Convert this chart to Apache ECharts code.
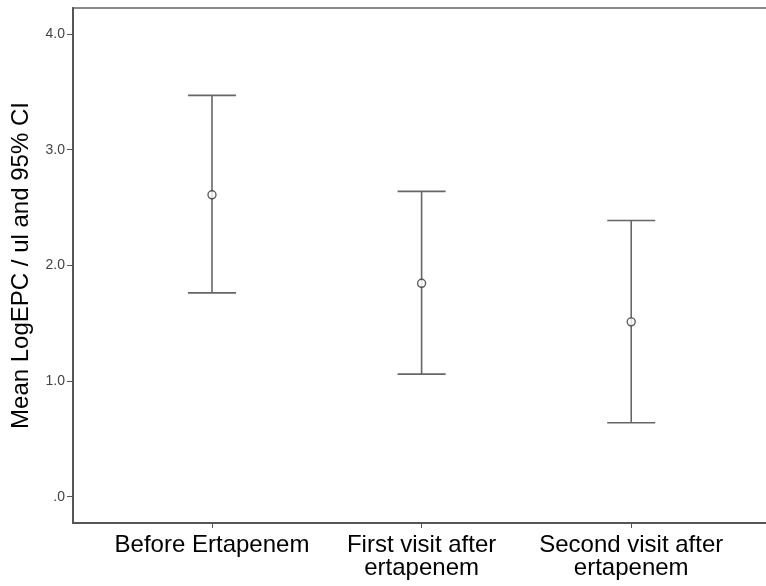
<!DOCTYPE html>
<html>
<head>
<meta charset="utf-8">
<script src="https://cdn.jsdelivr.net/npm/echarts@6/dist/echarts.min.js"></script>
<style>html,body{margin:0;padding:0;background:#fff;}#c{width:766px;height:586px;}</style>
</head>
<body>
<div id="c"></div>
<script>
const categories = ['Before Ertapenem', 'First visit after\nertapenem', 'Second visit after\nertapenem'];
const means = [2.61, 1.845, 1.512];
const upperCI = [3.47, 2.64, 2.388];
const lowerCI = [1.762, 1.06, 0.64];
const yTicks = [0, 1, 2, 3, 4];
const yTitle = 'Mean LogEPC / ul and 95% CI';

const chart = echarts.init(document.getElementById('c'), null, {renderer: 'canvas'});
const idx = categories.map((_, i) => i);
const font = '"Liberation Sans", Arial, sans-serif';

chart.setOption({
  animation: false,
  backgroundColor: '#fff',
  grid: {left: 73, right: -4, top: 8, bottom: 63, show: true, borderColor: '#8a8a8a', borderWidth: 2, backgroundColor: 'transparent', containLabel: false, outerBoundsMode: 'none'},
  xAxis: {
    type: 'value', min: -0.663, max: 2.662,
    splitLine: {show: false},
    axisLine: {show: true, onZero: false, lineStyle: {color: '#555', width: 2}},
    axisTick: {show: true, customValues: idx, length: 5, lineStyle: {color: '#555', width: 1}},
    axisLabel: {show: true, customValues: idx, formatter: v => categories[Math.round(v)], fontFamily: font, fontSize: 24, color: '#000', lineHeight: 23, margin: 11}
  },
  yAxis: {
    type: 'value', min: -0.227, max: 4.225,
    name: yTitle, nameLocation: 'middle', nameGap: 40, nameRotate: 90,
    nameTextStyle: {fontFamily: font, fontSize: 24, color: '#000'},
    splitLine: {show: false},
    axisLine: {show: true, onZero: false, lineStyle: {color: '#555', width: 2}},
    axisTick: {show: true, customValues: yTicks, length: 6, lineStyle: {color: '#555', width: 1}},
    axisLabel: {show: true, customValues: yTicks, formatter: v => v === 0 ? '.0' : v.toFixed(1), fontFamily: font, fontSize: 14, color: '#444', margin: 8}
  },
  series: [
    {
      type: 'custom',
      data: idx.map(i => [i, lowerCI[i], upperCI[i]]),
      renderItem: function (params, api) {
        const x = api.value(0);
        const lo = api.coord([x, api.value(1)]);
        const hi = api.coord([x, api.value(2)]);
        const hw = 24;
        const st = {stroke: '#666', lineWidth: 1.6};
        return {type: 'group', children: [
          {type: 'line', shape: {x1: lo[0], y1: lo[1], x2: hi[0], y2: hi[1]}, style: st},
          {type: 'line', shape: {x1: hi[0] - hw, y1: hi[1], x2: hi[0] + hw, y2: hi[1]}, style: st},
          {type: 'line', shape: {x1: lo[0] - hw, y1: lo[1], x2: lo[0] + hw, y2: lo[1]}, style: st}
        ]};
      },
      z: 2
    },
    {
      type: 'scatter',
      data: idx.map(i => [i, means[i]]),
      symbol: 'circle', symbolSize: 8,
      itemStyle: {color: '#fff', borderColor: '#333', borderWidth: 1.4},
      z: 3
    }
  ]
});
</script>
</body>
</html>
